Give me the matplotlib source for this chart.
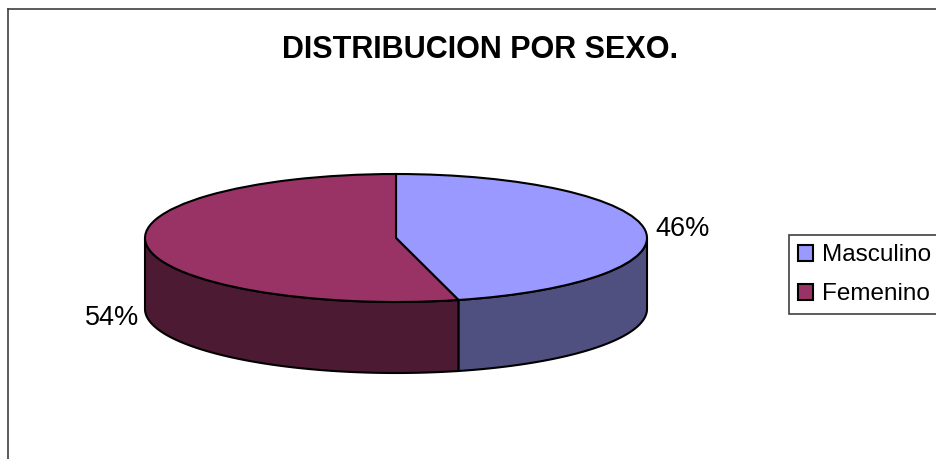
#!/usr/bin/env python3

import numpy as np
import matplotlib
matplotlib.use("Agg")
import matplotlib.pyplot as plt
from matplotlib.lines import Line2D

title = "DISTRIBUCION POR SEXO."
categories = ["Masculino", "Femenino"]
shares = [46, 54]

top_colors = ["#9999FF", "#993366"]
side_colors = ["#4F5080", "#4D1A33"]

W, H = 937, 459
CX, CY = 396, 238   # pie centre in pixels
RX, RY = 251, 64    # ellipse radii in pixels
DEPTH = 71 / RY     # wall height in pie units

plt.rcParams["font.family"] = ["Liberation Sans", "DejaVu Sans"]

fig = plt.figure(figsize=(W / 100, H / 100), dpi=100)
ax = fig.add_axes([0, 0, 1, 1])

wedges, _ = ax.pie(shares, colors=top_colors, startangle=90, counterclock=False,
                   wedgeprops=dict(edgecolor="black", linewidth=1.5), radius=1)
for w in wedges:
  w.set_zorder(3)

# squash the pie, one unit is RX wide and RY high
ax.set_aspect("auto")
ax.set_xlim(-CX / RX, (W - CX) / RX)
ax.set_ylim((CY - H) / RY, CY / RY)
ax.set_axis_off()

# walls below the front half of the rim
for w, col in zip(wedges, side_colors):
  t1, t2 = w.theta1, w.theta2
  # wedge angles can sit on either side of 0
  if t2 > 270:
    t1, t2 = t1 - 360, t2 - 360
  a0, a1 = max(t1, -180), min(t2, 0)
  t = np.radians(np.linspace(a0, a1, 120))
  xs = np.cos(t)
  ys = np.sin(t)
  ax.fill(np.r_[xs, xs[::-1]], np.r_[ys, ys[::-1] - DEPTH], facecolor=col,
          edgecolor="black", linewidth=1.5, zorder=2)

fig.text(480 / W, 1 - 50.5 / H, title, ha="center", va="center", fontsize=22,
         fontweight="bold", color="black")

label_pos = [(683, 229), (112, 318)]
for v, (px, py) in zip(shares, label_pos):
  fig.text(px / W, 1 - py / H, f"{v}%", ha="center", va="center", fontsize=19.5, color="black")

# outer chart border, runs off the right and bottom
border = dict(color="#404040", linewidth=1.2, transform=fig.transFigure)
fig.add_artist(Line2D([8.5 / W, 8.5 / W], [0, 1 - 9 / H], **border))
fig.add_artist(Line2D([8.5 / W, 1], [1 - 9 / H, 1 - 9 / H], **border))

leg = fig.legend(wedges, categories, loc="upper left",
                 bbox_to_anchor=(789 / W, 1 - 235 / H), bbox_transform=fig.transFigure,
                 fontsize=17.5, frameon=True, fancybox=False, edgecolor="#404040",
                 framealpha=1, borderaxespad=0, borderpad=0.38, handlelength=0.62,
                 handleheight=0.62, handletextpad=0.37, labelspacing=0.7)
leg.get_frame().set_linewidth(1.2)

fig.savefig("out.png", dpi=100)
